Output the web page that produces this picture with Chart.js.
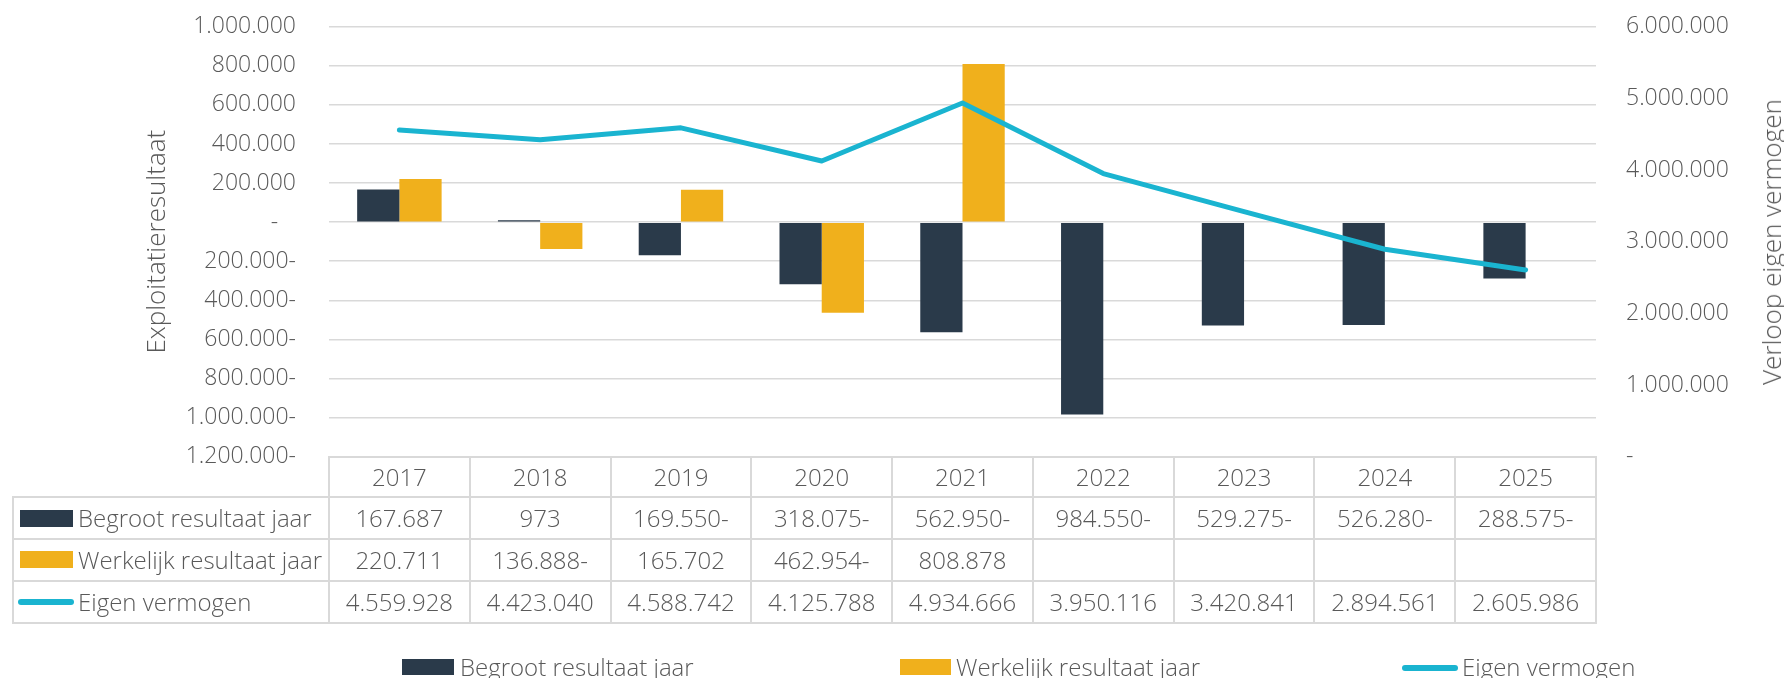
<!DOCTYPE html>
<html>
<head>
<meta charset="utf-8">
<script src="https://cdn.jsdelivr.net/npm/chart.js@4/dist/chart.umd.min.js"></script>
<style>
  html, body { margin: 0; padding: 0; background: #ffffff; overflow: hidden; }
  #wrap { position: relative; width: 1784px; height: 678px; overflow: hidden;
          font-family: "Open Sans", sans-serif; font-weight: 300; color: #595959; }
  #wrap canvas { position: absolute; left: 0; top: 0; }
  .txt { position: absolute; font-size: 24px; line-height: 24px; white-space: nowrap; }
  .ttl { position: absolute; font-size: 26px; line-height: 26px; white-space: nowrap; }
  .cell { position: absolute; display: flex; align-items: center; justify-content: center;
          font-size: 24px; line-height: 24px; white-space: nowrap; }
  .hl, .vl { position: absolute; background: #D9D9D9; }
  .key { position: absolute; }
</style>
</head>
<body>
<div id="wrap"><canvas id="c" width="1784" height="678"></canvas></div>
<script>
// ---- data ----
const categories = ['2017', '2018', '2019', '2020', '2021', '2022', '2023', '2024', '2025'];
const begrootResultaat = [167687, 973, -169550, -318075, -562950, -984550, -529275, -526280, -288575];
const werkelijkResultaat = [220711, -136888, 165702, -462954, 808878, null, null, null, null];
const eigenVermogen = [4559928, 4423040, 4588742, 4125788, 4934666, 3950116, 3420841, 2894561, 2605986];
const seriesNames = ['Begroot resultaat jaar', 'Werkelijk resultaat jaar', 'Eigen vermogen'];
const leftAxisTitle = 'Exploitatieresultaat';
const rightAxisTitle = 'Verloop eigen vermogen';
const leftAxisRange = [-1200000, 1000000, 200000];
const rightAxisRange = [0, 6000000, 1000000];

// ---- style ----
const DARK = '#2A3A4A';
const YELLOW = '#F0B01C';
const TEAL = '#1AB4D0';
const GRAY = '#595959';
const GRID = '#D9D9D9';
const FONT = { family: "'Open Sans', sans-serif", size: 23, weight: '300' };
const TITLE_FONT = { family: "'Open Sans', sans-serif", size: 26, weight: '300' };

function fmt(v) {
  return String(Math.abs(Math.round(v))).replace(/\B(?=(\d{3})+(?!\d))/g, '.');
}
function fmtSigned(v) {
  if (v === null || v === undefined) return '';
  return v < 0 ? fmt(v) + '-' : fmt(v);
}

const chart = new Chart(document.getElementById('c'), {
  type: 'bar',
  data: {
    labels: categories,
    datasets: [
      { label: seriesNames[0], data: begrootResultaat, backgroundColor: DARK, yAxisID: 'y',
        order: 1, minBarLength: 2, borderWidth: 0 },
      { label: seriesNames[1], data: werkelijkResultaat, backgroundColor: YELLOW, yAxisID: 'y',
        order: 1, borderWidth: 0 },
      { type: 'line', label: seriesNames[2], data: eigenVermogen, yAxisID: 'y2', order: 0,
        borderColor: TEAL, backgroundColor: TEAL, borderWidth: 5, pointRadius: 0, tension: 0,
        fill: false, borderCapStyle: 'round', borderJoinStyle: 'round' }
    ]
  },
  options: {
    responsive: false,
    animation: false,
    devicePixelRatio: 1,
    layout: { padding: { top: 26.7, bottom: 221.3, left: 0, right: 0 } },
    datasets: { bar: { categoryPercentage: 0.6, barPercentage: 1.0 } },
    plugins: { legend: { display: false }, tooltip: { enabled: false } },
    scales: {
      x: { display: false, offset: true, grid: { display: false } },
      y: {
        position: 'left',
        min: leftAxisRange[0], max: leftAxisRange[1],
        ticks: {
          stepSize: leftAxisRange[2], padding: 33, color: GRAY, font: FONT,
          callback: v => v === 0 ? '-   ' : fmtSigned(v)
        },
        grid: { color: GRID, lineWidth: 1.5, drawTicks: false },
        border: { display: false },
        title: { display: true, text: leftAxisTitle, color: GRAY, font: TITLE_FONT,
                 padding: { top: 142, bottom: 0 } },
        afterFit: s => { s.width = 329; s.paddingTop = 14; s.paddingBottom = 14; }
      },
      y2: {
        position: 'right',
        min: rightAxisRange[0], max: rightAxisRange[1],
        ticks: {
          stepSize: rightAxisRange[2], padding: 30, color: GRAY, font: FONT,
          callback: v => v === 0 ? '-' : fmt(v)
        },
        grid: { display: false, drawTicks: false },
        border: { display: false },
        afterFit: s => { s.width = 188; s.paddingTop = 14; s.paddingBottom = 14; }
      }
    }
  }
});

// ---- data table + legend (HTML, aligned to the chart's category scale) ----
const wrap = document.getElementById('wrap');
function add(cls, css, text) {
  const d = document.createElement('div');
  d.className = cls;
  Object.assign(d.style, css);
  if (text !== undefined) d.textContent = text;
  wrap.appendChild(d);
  return d;
}
const area = chart.chartArea;
const xs = chart.scales.x;
const n = categories.length;
const colW = area.width / n;
const tTop = area.bottom;
const rowH = [40.6, 41.7, 41.7, 42];
const rowY = [tTop];
rowH.forEach((h, i) => rowY.push(rowY[i] + h));
const tLeft = 13;
const LW = 2;

// horizontal lines
add('hl', { left: area.left + 'px', top: (rowY[0] - 1) + 'px', width: (area.right - area.left) + 'px', height: LW + 'px' });
for (let r = 1; r < rowY.length; r++) {
  add('hl', { left: tLeft + 'px', top: (rowY[r] - 1) + 'px', width: (area.right - tLeft + 1) + 'px', height: LW + 'px' });
}
// vertical lines
add('vl', { left: (tLeft - 1) + 'px', top: (rowY[1] - 1) + 'px', width: LW + 'px', height: (rowY[4] - rowY[1] + 2) + 'px' });
for (let k = 0; k <= n; k++) {
  const x = area.left + k * colW;
  add('vl', { left: (x - 1) + 'px', top: (rowY[0] - 1) + 'px', width: LW + 'px', height: (rowY[4] - rowY[0] + 2) + 'px' });
}
// header and values
const rows = [
  categories,
  begrootResultaat.map(fmtSigned),
  werkelijkResultaat.map(fmtSigned),
  eigenVermogen.map(fmtSigned)
];
rows.forEach((vals, r) => {
  vals.forEach((t, i) => {
    const cx = xs.getPixelForValue(i);
    add('cell', { left: (cx - colW / 2) + 'px', top: rowY[r] + 'px', width: colW + 'px', height: rowH[r] + 'px' }, t);
  });
});
// row labels with legend keys
const keyColors = [DARK, YELLOW, TEAL];
for (let s = 0; s < 3; s++) {
  const r = s + 1;
  const cy = rowY[r] + rowH[r] / 2;
  if (s < 2) {
    add('key', { left: '20px', top: (cy - 8.5) + 'px', width: '53px', height: '17px', background: keyColors[s] });
  } else {
    add('key', { left: '18px', top: (cy - 3) + 'px', width: '56px', height: '6px', background: keyColors[s], borderRadius: '3px' });
  }
  add('cell', { left: '78px', top: rowY[r] + 'px', height: rowH[r] + 'px', justifyContent: 'flex-start' }, seriesNames[s]);
}

// bottom legend
const legY = 667;
add('key', { left: '402px', top: (legY - 8) + 'px', width: '52px', height: '16px', background: DARK });
add('txt', { left: '460px', top: (legY - 12) + 'px' }, seriesNames[0]);
add('key', { left: '900px', top: (legY - 8) + 'px', width: '51px', height: '16px', background: YELLOW });
add('txt', { left: '956px', top: (legY - 12) + 'px' }, seriesNames[1]);
add('key', { left: '1402px', top: (legY - 2) + 'px', width: '56px', height: '6px', background: TEAL, borderRadius: '3px' });
add('txt', { left: '1462px', top: (legY - 12) + 'px' }, seriesNames[2]);

// right axis title (reads bottom-to-top like the reference)
add('ttl', { left: '1771px', top: ((area.top + area.bottom) / 2) + 'px',
             transform: 'translate(-50%, -50%) rotate(-90deg)' }, rightAxisTitle);
</script>
</body>
</html>
